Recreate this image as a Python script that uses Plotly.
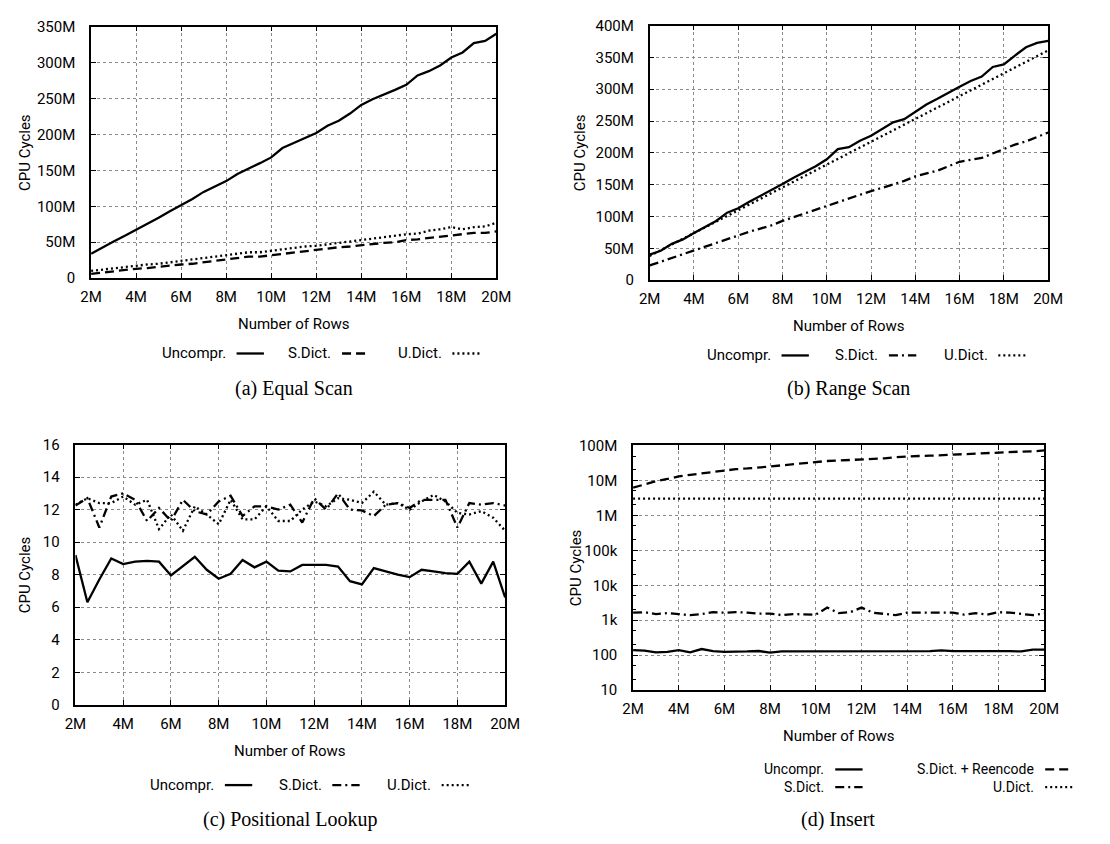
import plotly.graph_objects as go

W, H = 1110, 844

# ---------------- data ----------------
rows_m = [2.0, 2.5, 3.0, 3.5, 4.0, 4.5, 5.0, 5.5, 6.0, 6.5, 7.0, 7.5, 8.0, 8.5, 9.0, 9.5,
          10.0, 10.5, 11.0, 11.5, 12.0, 12.5, 13.0, 13.5, 14.0, 14.5, 15.0, 15.5, 16.0,
          16.5, 17.0, 17.5, 18.0, 18.5, 19.0, 19.5, 20.0]
x_tickvals = [2, 4, 6, 8, 10, 12, 14, 16, 18, 20]
x_ticktext = ["2M", "4M", "6M", "8M", "10M", "12M", "14M", "16M", "18M", "20M"]

# (a) Equal Scan, CPU cycles in millions
eq_uncompr = [34, 43, 51, 59, 67, 76, 84, 93, 101, 110, 120, 127, 135, 145, 152, 160, 168,
              181, 188, 195, 202, 212, 219, 229, 241, 249, 255, 262, 269, 282, 288, 296, 307,
              314, 327, 330, 340]
eq_sdict = [6, 8, 9, 11, 13, 14, 16, 17, 19, 20, 22, 23, 25, 27, 30, 30, 32, 33, 35, 37, 39,
            41, 43, 44, 46, 47, 49, 50, 53, 54, 56, 57, 59, 62, 63, 63, 65]
eq_udict = [10, 12, 14, 15, 17, 19, 20, 22, 24, 26, 27, 29, 31, 34, 36, 36, 38, 41, 42, 44, 45,
            47, 49, 51, 53, 55, 57, 60, 61, 62, 66, 68, 71, 68, 71, 72, 77]
a_tickvals = [0, 50, 100, 150, 200, 250, 300, 350]
a_ticktext = ["0", "50M", "100M", "150M", "200M", "250M", "300M", "350M"]

# (b) Range Scan, CPU cycles in millions
rg_uncompr = [40, 46, 57, 64, 74, 83, 93, 106, 113, 123, 132, 141, 151, 161, 170, 179, 190,
              206, 209, 219, 227, 238, 248, 253, 265, 276, 285, 295, 304, 313, 320, 335, 339,
              353, 366, 373, 376]
rg_sdict = [23, 29, 35, 40, 46, 52, 58, 64, 70, 76, 81, 86, 93, 99, 105, 110, 116, 122, 128,
            134, 140, 145, 150, 156, 163, 168, 172, 179, 186, 189, 192, 199, 206, 213, 218,
            225, 232]
rg_udict = [38, 47, 55, 64, 73, 82, 91, 100, 109, 118, 127, 136, 145, 154, 163, 172, 181, 190,
            199, 208, 217, 226, 235, 245, 254, 263, 272, 281, 290, 299, 307, 316, 325, 334,
            343, 352, 361]
b_tickvals = [0, 50, 100, 150, 200, 250, 300, 350, 400]
b_ticktext = ["0", "50M", "100M", "150M", "200M", "250M", "300M", "350M", "400M"]

# (c) Positional Lookup, CPU cycles
pl_uncompr = [9.2, 6.3, 7.7, 9.0, 8.65, 8.8, 8.85, 8.8, 7.95, 8.5, 9.1, 8.3, 7.75, 8.05, 8.9,
              8.45, 8.8, 8.25, 8.2, 8.6, 8.6, 8.6, 8.5, 7.6, 7.4, 8.4, 8.2, 8.0, 7.85, 8.3,
              8.2, 8.1, 8.05, 8.8, 7.45, 8.8, 6.6]
pl_sdict = [12.25, 12.7, 10.9, 12.8, 13.0, 12.6, 11.3, 12.1, 11.3, 12.6, 11.9, 11.7, 12.5,
            12.85, 11.6, 12.2, 12.2, 12.0, 12.3, 11.2, 12.7, 12.0, 13.0, 12.0, 11.95, 11.6,
            12.3, 12.4, 12.1, 12.6, 12.6, 12.6, 10.9, 12.4, 12.3, 12.4, 12.25]
pl_udict = [12.3, 12.7, 12.4, 12.4, 12.8, 12.3, 12.6, 10.8, 11.7, 10.7, 12.2, 11.7, 11.1,
            12.6, 11.4, 11.4, 12.2, 11.3, 11.3, 12.0, 12.5, 12.2, 12.7, 12.6, 12.4, 13.1,
            12.3, 12.4, 12.0, 12.5, 12.9, 12.5, 11.8, 11.7, 11.9, 11.5, 10.7]
c_tickvals = [0, 2, 4, 6, 8, 10, 12, 14, 16]

# (d) Insert, CPU cycles (log scale)
in_uncompr = [140, 135, 120, 125, 140, 120, 150, 130, 125, 125, 128, 132, 118, 128, 128, 128,
              128, 130, 130, 126, 130, 130, 132, 126, 128, 128, 130, 138, 130, 130, 132, 130,
              130, 130, 128, 145, 145]
in_sdict = [1650, 1700, 1500, 1600, 1500, 1400, 1500, 1700, 1650, 1700, 1650, 1550, 1550,
            1400, 1500, 1450, 1450, 2300, 1600, 1700, 2300, 1650, 1550, 1400, 1650, 1650,
            1600, 1600, 1650, 1450, 1600, 1450, 1700, 1650, 1500, 1400, 1550]
in_sdict_reenc = [6.2e6, 7.8e6, 9.5e6, 11e6, 13e6, 14.5e6, 16e6, 17.5e6, 19.5e6, 21e6, 22e6,
                  23e6, 25e6, 27e6, 29e6, 31e6, 34e6, 36e6, 37e6, 38e6, 40e6, 41e6, 43e6,
                  46e6, 49e6, 50e6, 51e6, 53e6, 55e6, 57e6, 58e6, 59e6, 63e6, 66e6, 67e6,
                  68e6, 72e6]
in_udict = [3.0e6, 3.0e6, 3.0e6, 3.0e6, 3.0e6, 3.0e6, 3.0e6, 3.0e6, 3.0e6, 3.0e6, 3.0e6,
            3.0e6, 3.0e6, 3.0e6, 3.0e6, 3.0e6, 3.0e6, 3.0e6, 3.0e6, 3.0e6, 3.0e6, 3.0e6,
            3.0e6, 3.0e6, 3.0e6, 3.0e6, 3.0e6, 3.0e6, 3.0e6, 3.0e6, 3.0e6, 3.0e6, 3.0e6,
            3.0e6, 3.0e6, 3.0e6, 3.0e6]
d_tickvals = [10, 100, 1e3, 1e4, 1e5, 1e6, 1e7, 1e8]
d_ticktext = ["10", "100", "1k", "10k", "100k", "1M", "10M", "100M"]

# ---------------- styles ----------------
SANS = "Roboto"
SERIF = "Liberation Serif"
BLACK = "#000000"
SOLID = "solid"
DASH = "9px,5px"
DASHDOT = "9px,4px,2px,4px"
DOT = "2px,3px"
LW = 2.3
FS = 15


def px2x(p):
    return p / W


def px2y(p):
    return 1 - p / H


# plot areas in pixels (left, right, top, bottom)
areas = {
    "a": (82, 497, 18, 275),
    "b": (654, 1062, 17, 277),
    "c": (66, 506, 445, 711),
    "d": (637, 1058, 446, 696),
}

fig = go.Figure()


def add_series(xref, yref, y, dash):
    fig.add_trace(go.Scatter(x=rows_m, y=y, mode="lines", xaxis=xref, yaxis=yref,
                             line=dict(color=BLACK, width=LW, dash=dash),
                             showlegend=False, hoverinfo="skip"))


add_series("x", "y", eq_uncompr, SOLID)
add_series("x", "y", eq_sdict, DASH)
add_series("x", "y", eq_udict, DOT)

add_series("x2", "y2", rg_uncompr, SOLID)
add_series("x2", "y2", rg_sdict, DASHDOT)
add_series("x2", "y2", rg_udict, DOT)

add_series("x3", "y3", pl_uncompr, SOLID)
add_series("x3", "y3", pl_sdict, DASHDOT)
add_series("x3", "y3", pl_udict, DOT)

add_series("x4", "y4", in_uncompr, SOLID)
add_series("x4", "y4", in_sdict, DASHDOT)
add_series("x4", "y4", in_sdict_reenc, DASH)
add_series("x4", "y4", in_udict, DOT)

tickfont = dict(family=SANS, size=FS, color=BLACK)
common_axis = dict(showline=True, linecolor=BLACK, linewidth=1.6, mirror="allticks",
                   ticks="inside", ticklen=5, tickcolor=BLACK, tickwidth=1,
                   showgrid=True, gridcolor="#8a8a8a", griddash="dot", gridwidth=1,
                   zeroline=False, tickfont=tickfont, fixedrange=True)

layout_axes = {}
keys = ["a", "b", "c", "d"]
for i, k in enumerate(keys):
    l, r, t, b = areas[k]
    sx = "xaxis" if i == 0 else f"xaxis{i+1}"
    sy = "yaxis" if i == 0 else f"yaxis{i+1}"
    anc_x = "y" if i == 0 else f"y{i+1}"
    anc_y = "x" if i == 0 else f"x{i+1}"
    layout_axes[sx] = dict(common_axis, domain=[px2x(l), px2x(r)], anchor=anc_x,
                           range=[2, 20], tickvals=x_tickvals, ticktext=x_ticktext,
                           ticklabelstandoff=4)
    layout_axes[sy] = dict(common_axis, domain=[px2y(b), px2y(t)], anchor=anc_y,
                           ticklabelstandoff=11)

layout_axes["yaxis"].update(range=[0, 350], tickvals=a_tickvals, ticktext=a_ticktext)
layout_axes["yaxis2"].update(range=[0, 400], tickvals=b_tickvals, ticktext=b_ticktext)
layout_axes["yaxis3"].update(range=[0, 16], tickvals=c_tickvals)
layout_axes["yaxis4"].update(type="log", range=[1, 8], tickvals=d_tickvals, ticktext=d_ticktext,
                             minor=dict(ticks="inside", ticklen=3, tickcolor=BLACK,
                                        showgrid=False))

annotations = []
shapes = []


def text(x, y, s, size=FS, family=SANS, xanchor="center", angle=0):
    annotations.append(dict(x=px2x(x), y=px2y(y), xref="paper", yref="paper", text=s,
                            showarrow=False, xanchor=xanchor, yanchor="middle",
                            textangle=angle, font=dict(family=family, size=size, color=BLACK)))


def legend_item(xtext_right, y, label, dash, size=FS):
    text(xtext_right, y, label, xanchor="right", size=size)
    shapes.append(dict(type="line", xref="paper", yref="paper",
                       x0=px2x(xtext_right + 9), x1=px2x(xtext_right + 37),
                       y0=px2y(y), y1=px2y(y),
                       line=dict(color=BLACK, width=LW, dash=dash)))


# axis titles
for k, ytitle_x in zip(keys, [15, 582, 14, 578]):
    l, r, t, b = areas[k]
    text(ytitle_x, (t + b) / 2, "CPU Cycles", angle=-90)

text((82 + 497) / 2, 322, "Number of Rows")
text((654 + 1062) / 2, 324, "Number of Rows")
text((66 + 506) / 2, 758, "Number of Rows")
text((637 + 1058) / 2, 743, "Number of Rows")

# legends
legend_item(222, 352, "Uncompr.", SOLID)
legend_item(330, 352, "S.Dict.", DASH)
legend_item(443, 352, "U.Dict.", DOT)

legend_item(780, 354, "Uncompr.", SOLID)
legend_item(890, 354, "S.Dict.", DASHDOT)
legend_item(1002, 354, "U.Dict.", DOT)

legend_item(210, 793, "Uncompr.", SOLID)
legend_item(320, 793, "S.Dict.", DASHDOT)
legend_item(432, 793, "U.Dict.", DOT)

legend_item(835, 777, "Uncompr.", SOLID, size=14)
legend_item(835, 795, "S.Dict.", DASHDOT, size=14)
legend_item(1050, 777, "S.Dict. + Reencode", DASH, size=14)
legend_item(1050, 795, "U.Dict.", DOT, size=14)

# captions
text(290, 388, "(a) Equal Scan", size=20, family=SERIF)
text(858, 388, "(b) Range Scan", size=20, family=SERIF)
text(286, 828, "(c) Positional Lookup", size=20, family=SERIF)
text(847, 828, "(d) Insert", size=20, family=SERIF)

fig.update_layout(width=W, height=H, margin=dict(l=0, r=0, t=0, b=0),
                  paper_bgcolor="white", plot_bgcolor="white",
                  annotations=annotations, shapes=shapes, **layout_axes)

fig.write_html("out.html", config={"displayModeBar": False})
